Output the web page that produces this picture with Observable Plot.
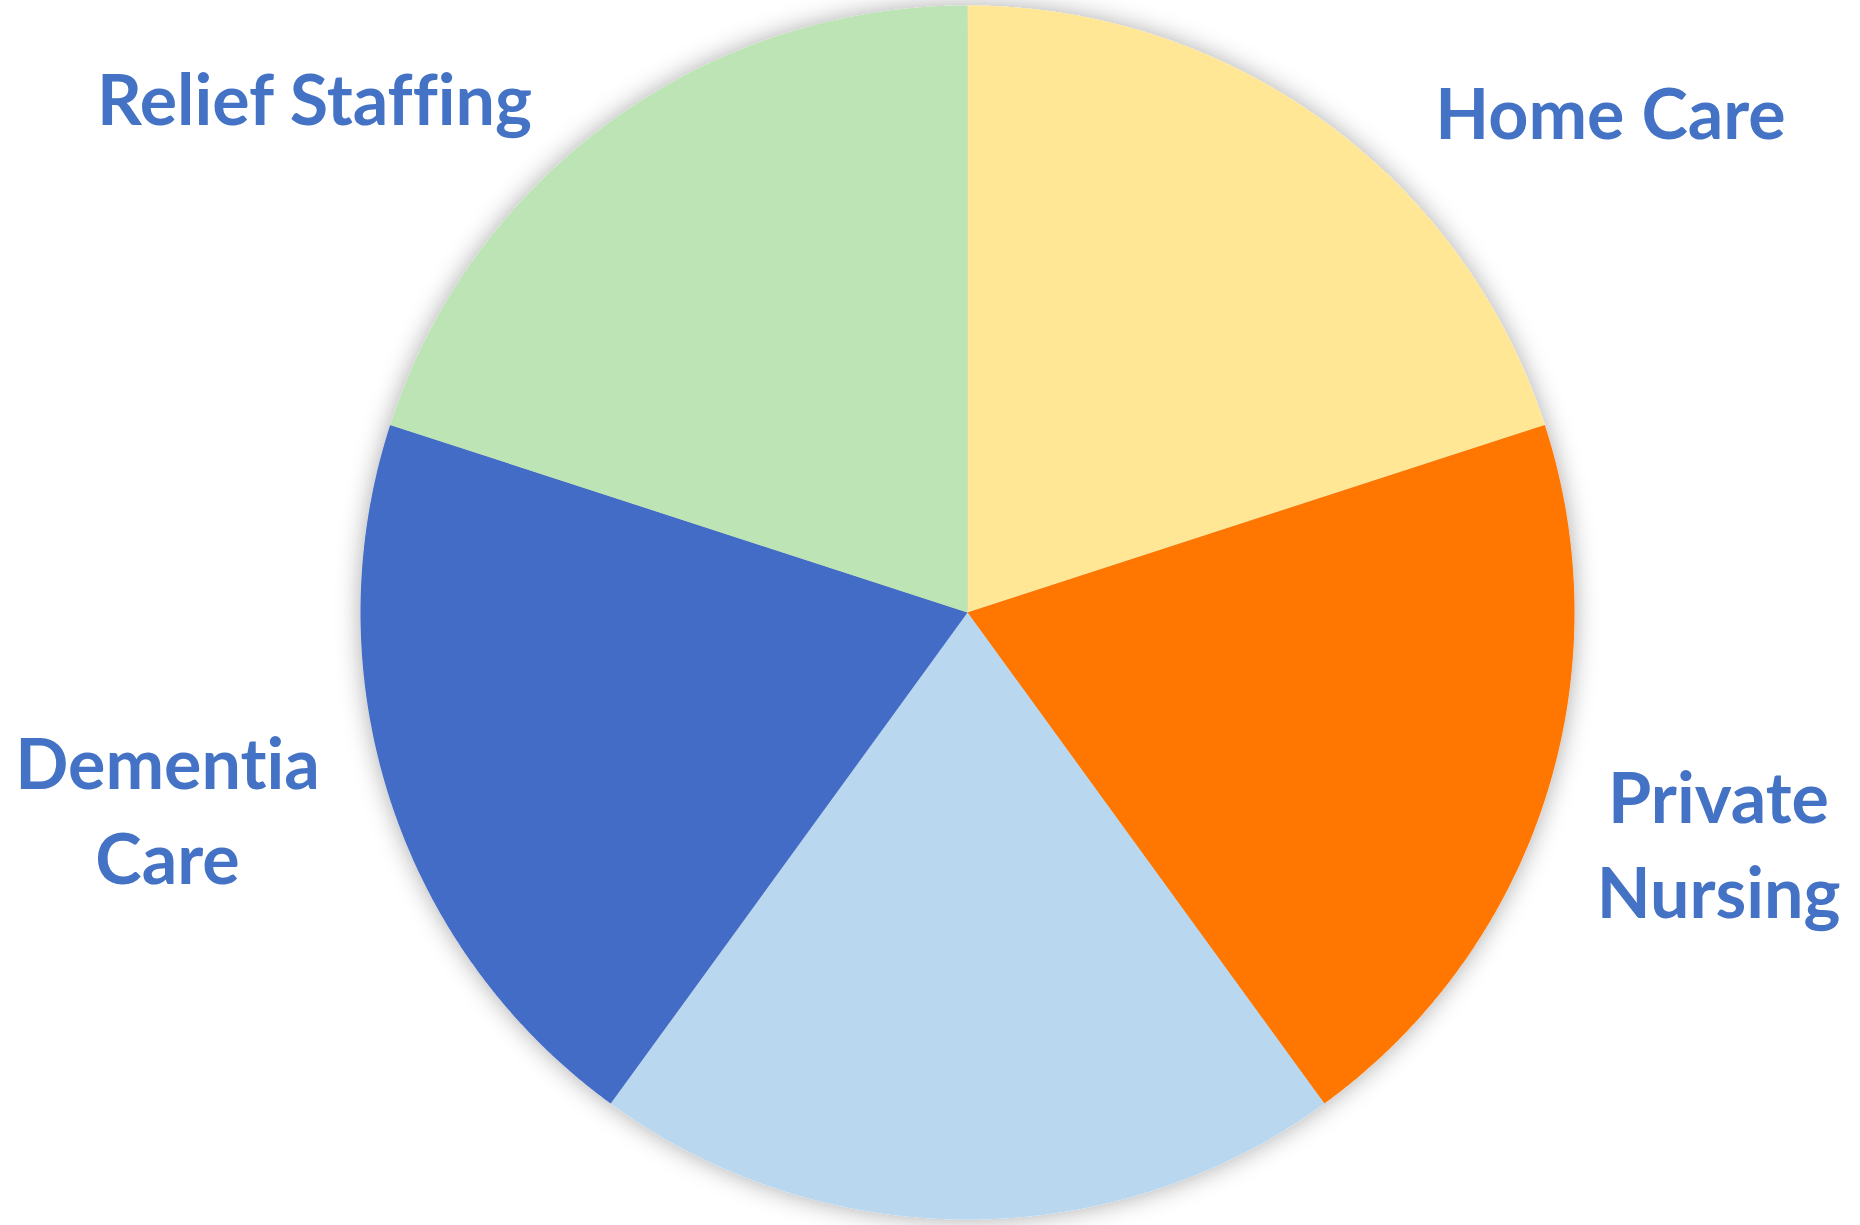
<!DOCTYPE html>
<html>
<head>
<meta charset="utf-8">
<script src="https://cdn.jsdelivr.net/npm/d3@7"></script>
<script src="https://cdn.jsdelivr.net/npm/@observablehq/plot@0.6"></script>
<style>
  html, body { margin: 0; padding: 0; background: #ffffff; }
  #chart svg { display: block; }
  #chart svg text { font-variant-ligatures: none; font-feature-settings: "liga" 0, "clig" 0; }
</style>
</head>
<body>
<div id="chart"></div>
<script>
// ---- data ----
const categories = ["Home Care", "Private Nursing", "Unlabeled", "Dementia Care", "Relief Staffing"];
const values = [20, 20, 20, 20, 20];
const labels = ["Home Care", "Private\nNursing", "", "Dementia\nCare", "Relief Staffing"];
const colors = ["#FFE796", "#FF7600", "#B9D8F0", "#436CC6", "#BDE4B4"];

// ---- layout (pixels) ----
const W = 1860, H = 1225;
const CX = 967, CY = 612, R = 607;
const labelPos = [[1610, 138], [1718, 917], null, [167, 883], [314, 124]];
const fontSize = 70;

// pie geometry in unit data space (x right, y up), slices clockwise from 12 o'clock
const arcs = d3.pie().sort(null).value(d => d.value)(categories.map((c, i) => ({cat: c, value: values[i]})));
const points = [];
for (const a of arcs) {
  points.push({cat: a.data.cat, x: 0, y: 0});
  const n = Math.max(2, Math.ceil((a.endAngle - a.startAngle) / 0.005));
  for (let k = 0; k <= n; k++) {
    const t = a.startAngle + (a.endAngle - a.startAngle) * k / n;
    points.push({cat: a.data.cat, x: Math.sin(t), y: Math.cos(t)});
  }
}

const labelData = categories
  .map((c, i) => ({label: labels[i], p: labelPos[i]}))
  .filter(d => d.label && d.p)
  .map(d => ({label: d.label, x: (d.p[0] - CX) / R, y: (CY - d.p[1]) / R}));

const chart = Plot.plot({
  width: W,
  height: H,
  margin: 0,
  x: {domain: [-1, 1], range: [CX - R, CX + R], axis: null},
  y: {domain: [-1, 1], range: [CY + R, CY - R], axis: null},
  color: {domain: categories, range: colors},
  marks: [
    Plot.line(points, {x: "x", y: "y", z: "cat", fill: "cat", stroke: null, curve: "linear-closed"}),
    Plot.text(labelData, {
      x: "x", y: "y", text: "label",
      textAnchor: "middle", lineAnchor: "bottom",
      lineHeight: 95 / fontSize,
      fontSize: fontSize, fontWeight: "bold", fontFamily: "Lato",
      fill: "#4472C4"
    })
  ]
});

// soft shadow around the pie
const svg = d3.select(chart);
const defs = svg.insert("defs", ":first-child");
const f = defs.append("filter").attr("id", "pieShadow")
  .attr("x", "-10%").attr("y", "-10%").attr("width", "120%").attr("height", "120%");
f.append("feDropShadow").attr("dx", 0).attr("dy", 0).attr("stdDeviation", 12)
  .attr("flood-color", "#000").attr("flood-opacity", 0.33);
svg.select("g[aria-label='line']").attr("filter", "url(#pieShadow)");

document.getElementById("chart").appendChild(chart);
</script>
</body>
</html>
